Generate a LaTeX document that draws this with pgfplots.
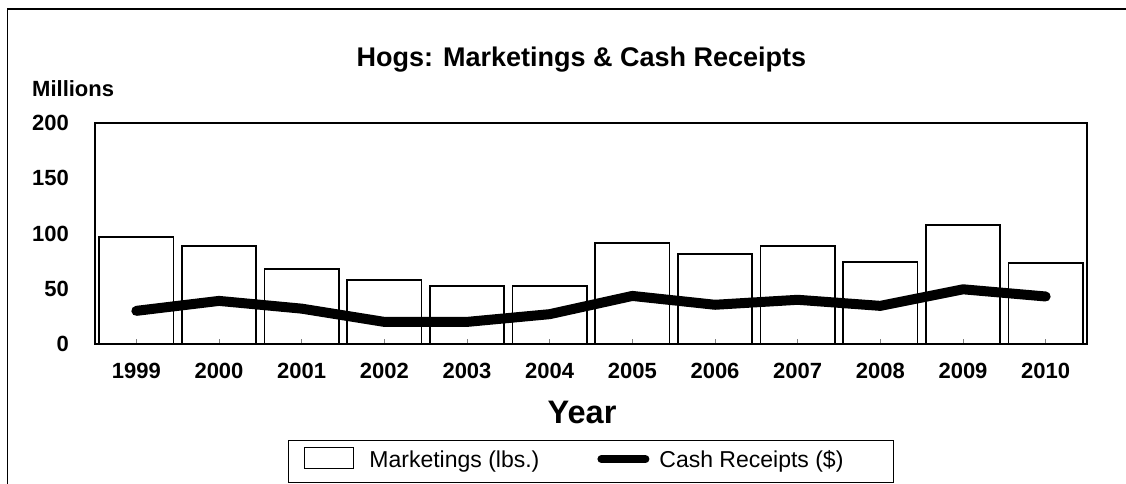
\documentclass[border=0pt]{standalone}
\usepackage{pgfplots}
\pgfplotsset{compat=1.18}
\usepackage{fontspec}
\setmainfont{Liberation Sans}
\begin{document}
\begin{tikzpicture}
\useasboundingbox (0,0) rectangle (1126pt,484pt);
\draw[line width=1.5pt] (7.5pt,0pt) -- (7.5pt,475pt) -- (1126pt,475pt);
\begin{axis}[
  at={(95pt,140pt)}, anchor=south west,
  scale only axis, width=992pt, height=221pt,
  xmin=-0.5, xmax=11.5, ymin=0, ymax=200,
  xtick={0,...,11},
  xticklabels={1999,2000,2001,2002,2003,2004,2005,2006,2007,2008,2009,2010},
  ytick={0,50,100,150,200},
  /pgf/number format/assume math mode=true,
  ticklabel style={font=\bfseries\fontsize{22}{24}\selectfont},
  yticklabel style={inner sep=0pt, anchor=east, xshift=-26pt},
  xticklabel style={inner sep=0pt, anchor=north, yshift=-19pt},
  tickpos=left, tick align=inside,
  major tick length=5pt,
  xtick style={gray, line width=0.8pt},
  ytick style={draw=none},
  axis line style={line width=1.5pt},
  axis on top,
  title={Hogs: Marketings \& Cash Receipts},
  title style={at={(axis description cs:0.4904,1.2276)}, anchor=base, inner sep=0pt, font=\bfseries\fontsize{27}{30}\selectfont},
  every axis y label/.style={at={(axis description cs:-0.0635,1.119)}, anchor=base west, inner sep=0pt, font=\bfseries\fontsize{22}{24}\selectfont},
  ylabel={Millions},
  every axis x label/.style={at={(axis description cs:0.491,-0.359)}, anchor=base, inner sep=0pt, font=\bfseries\fontsize{32.5}{36}\selectfont},
  xlabel={Year},
  legend columns=2,
  legend style={at={(axis description cs:0.5,-0.4344)}, anchor=north,
    draw=black, line width=1.2pt, inner xsep=0pt, inner ysep=4pt,
    font=\fontsize{23}{26}\selectfont, column sep=0pt,
    nodes={inner sep=0pt, anchor=base west}},
]
\addplot[ybar, bar width=0.9, draw=black, line width=1.9pt, fill=white,
  legend image code/.code={
    \draw[line width=1.5pt, fill=white] (15pt,-1pt) rectangle (64pt,20pt);
    \path (0pt,-6pt) (79pt,18pt);
  }]
  coordinates {(0,97) (1,89) (2,68) (3,58) (4,52.5) (5,52.5) (6,91) (7,81.5) (8,89) (9,74) (10,108) (11,73.5)};
\addlegendentry{Marketings (lbs.)\rule{53pt}{0pt}}
\addplot[black, line width=10pt, line cap=round, line join=round, mark=none,
  legend image code/.code={
    \draw[line width=8pt, line cap=round] (4pt,8.5pt) -- (48pt,8.5pt);
    \path (0pt,-6pt) (57pt,18pt);
  }]
  coordinates {(0,30) (1,39) (2,32) (3,20) (4,20) (5,27) (6,43.5) (7,35.5) (8,40) (9,34.5) (10,49.5) (11,43)};
\addlegendentry{Cash Receipts (\$)\rule{50pt}{0pt}}
\end{axis}
\end{tikzpicture}
\end{document}
